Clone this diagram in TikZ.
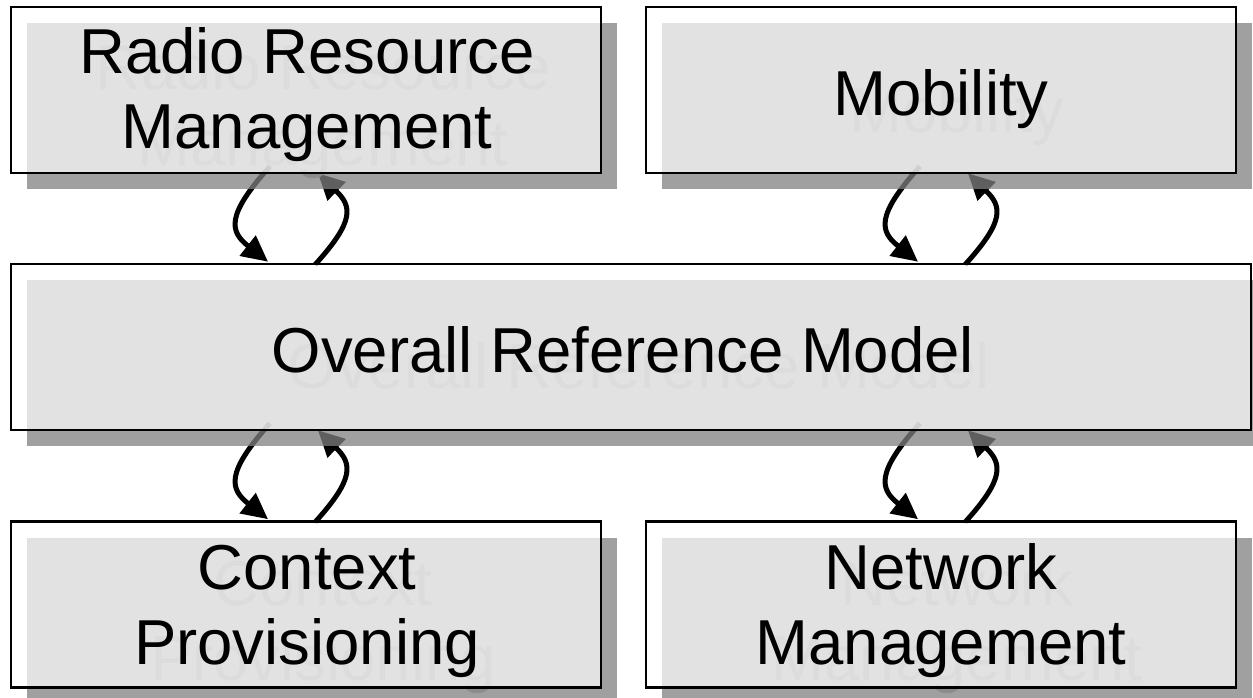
\documentclass[tikz,border=0pt]{standalone}
\usepackage{fontspec}
\setmainfont{Liberation Sans}
\usetikzlibrary{calc,arrows.meta}
\pgfdeclarelayer{bg}
\pgfsetlayers{bg,main}
\tikzset{
  frame/.style={inner sep=0pt, minimum height=166pt},
  box/.style={frame, draw=black, line width=2.6pt, fill=white, fill opacity=0.7},
  shadowbox/.style={frame, draw=none, fill=black!50, fill opacity=0.75},
  label/.style={anchor=base, inner sep=0pt, font=\fontsize{63.5}{75}\selectfont},
  ghost/.style={label, text=black!45},
  loop/.style={line width=5pt, draw=black, -{Triangle[length=26pt,width=25pt]}}
}
% box: name, cx, cy, width
\newcommand\mybox[4]{%
  \node[shadowbox, minimum width=#4pt] (#1s) at (#2+16,#3+16) {};
}
\newcommand\myframe[4]{%
  \node[box, minimum width=#4pt] (#1) at (#2,#3) {};
}
% text line: name, x, baseline y, text
\newcommand\myghost[4]{\node[ghost] (#1g) at (#2+16,#3+16) {#4};}
\newcommand\mytext[4]{\node[label] (#1) at (#2,#3) {#4};}
\newcommand\arrowpair[3]{%
  \coordinate (px) at (#3,0);
  \coordinate (a1) at ($(#1.south -| px)+(3,-8)$);
  \coordinate (a2) at ($(#2.north -| px)+(1,-1)$);
  \coordinate (b1) at ($(#2.north -| px)+(48,2)$);
  \coordinate (b2) at ($(#1.south -| px)+(51,-1)$);
  \draw[loop] (a1) .. controls +(-45,50) and +(-38,-30) .. (a2);
  \draw[loop] (b1) .. controls +(40,-44) and +(34,33) .. (b2);
}
\begin{document}
\begin{tikzpicture}[x=1pt,y=-1pt]
\useasboundingbox (0,0) rectangle (1253,698);
\clip (0,0) rectangle (1253,698);
% Radio Resource Management
\mybox{rrm}{306}{90}{590}
\myghost{rrm1}{307}{74}{Radio Resource}
\myghost{rrm2}{307}{149}{Management}
\myframe{rrm}{306}{90}{590}
\mytext{rrm1}{307}{74}{Radio Resource}
\mytext{rrm2}{307}{149}{Management}
% Mobility
\mybox{mob}{941}{90}{590}
\myghost{mob1}{941}{116}{Mobility}
\myframe{mob}{941}{90}{590}
\mytext{mob1}{941}{116}{Mobility}
% Overall Reference Model
\mybox{orm}{631}{347}{1240}
\myghost{orm1}{623}{372}{Overall Reference Model}
\myframe{orm}{631}{347}{1240}
\mytext{orm1}{623}{372}{Overall Reference Model}
% Context Provisioning
\mybox{cp}{306}{604.5}{590}
\myghost{cp1}{307}{589}{Context}
\myghost{cp2}{307}{664}{Provisioning}
\myframe{cp}{306}{604.5}{590}
\mytext{cp1}{307}{589}{Context}
\mytext{cp2}{307}{664}{Provisioning}
% Network Management
\mybox{nm}{941}{604.5}{590}
\myghost{nm1}{941}{589}{Network}
\myghost{nm2}{941}{664}{Management}
\myframe{nm}{941}{604.5}{590}
\mytext{nm1}{941}{589}{Network}
\mytext{nm2}{941}{664}{Management}
\begin{pgfonlayer}{bg}
  \arrowpair{rrm}{orm}{267}
  \arrowpair{mob}{orm}{917}
  \arrowpair{orm}{cp}{267}
  \arrowpair{orm}{nm}{917}
\end{pgfonlayer}
\end{tikzpicture}
\end{document}
